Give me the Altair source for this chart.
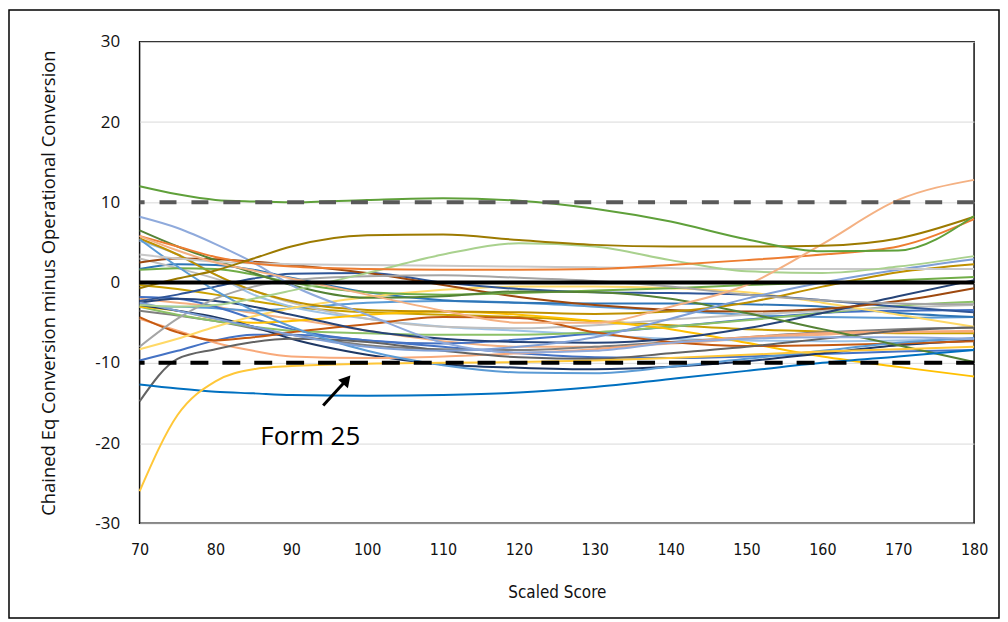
import altair as alt
import pandas as pd

# ---------------- data ----------------
SCORES = [70, 75, 80, 85, 90, 100, 110, 120, 130, 140, 150, 160, 170, 180]
X_TICKS = [70, 80, 90, 100, 110, 120, 130, 140, 150, 160, 170, 180]
Y_TICKS = [-30, -20, -10, 0, 10, 20, 30]

f01 = [12.0, 11.0, 10.3, 10.1, 10.0, 10.3, 10.5, 10.2, 9.2, 7.6, 5.4, 3.9, 4.0, 8.3]
f02 = [-0.7, 0.5, 1.5, 3.0, 4.5, 5.9, 6.0, 5.3, 4.7, 4.5, 4.5, 4.6, 5.5, 8.2]
f03 = [5.8, 4.0, 2.5, 1.5, 0.5, -1.5, -3.5, -5.0, -5.0, -3.0, -0.3, 4.8, 10.3, 12.8]
f04 = [5.8, 4.5, 3.2, 2.4, 2.0, 1.7, 1.6, 1.6, 1.7, 2.2, 2.8, 3.5, 4.5, 7.9]
f05 = [-2.8, -3.0, -2.8, -2.0, -1.0, 1.2, 3.5, 4.9, 4.5, 2.8, 1.4, 1.2, 2.0, 3.3]
f06 = [3.5, 3.0, 2.6, 2.4, 2.3, 2.2, 2.1, 2.0, 1.9, 1.8, 1.7, 1.7, 1.7, 1.7]
f07 = [8.2, 6.8, 4.8, 2.5, -0.3, -4.0, -7.5, -8.7, -8.5, -7.5, -7.0, -6.8, -6.8, -7.0]
f08 = [-2.5, -3.5, -4.5, -5.5, -6.5, -8.0, -8.5, -8.0, -6.8, -4.5, -2.0, 0.0, 1.6, 2.9]
f09 = [6.5, 4.5, 2.8, 1.2, -0.3, -1.9, -1.7, -1.1, -1.2, -2.0, -3.8, -5.8, -7.8, -9.9]
f10 = [5.4, 2.0, -1.0, -3.5, -5.5, -8.5, -10.3, -11.2, -11.3, -10.5, -9.5, -8.5, -7.5, -6.9]
f11 = [-12.7, -13.2, -13.6, -13.8, -14.0, -14.1, -14.0, -13.7, -13.0, -12.0, -11.0, -10.0, -9.2, -8.4]
form25 = [-26.0, -16.5, -12.3, -10.8, -10.4, -10.1, -10.0, -9.9, -9.7, -9.4, -9.0, -8.6, -8.3, -8.0]
f12 = [-14.8, -9.5, -8.3, -7.4, -7.0, -7.4, -8.5, -9.3, -9.5, -8.8, -8.0, -7.0, -6.0, -5.6]
f13 = [-8.0, -4.5, -2.0, -0.5, 0.3, 0.8, 0.9, 0.6, 0.2, -0.5, -1.5, -2.2, -2.6, -2.7]
f15 = [1.6, 1.8, 1.7, 1.0, 0.0, -1.2, -1.5, -1.3, -1.0, -0.7, -0.3, 0.0, 0.3, 0.7]
f16 = [5.5, 3.5, 1.0, -1.0, -2.3, -3.4, -3.6, -3.7, -3.9, -3.6, -2.5, -0.5, 1.3, 2.3]
f17 = [2.5, 3.0, 2.9, 2.6, 2.2, 1.2, -0.3, -1.8, -2.8, -3.4, -3.6, -3.3, -2.3, -0.7]
f18 = [-2.5, -2.0, -2.3, -3.0, -4.0, -6.0, -7.0, -7.4, -7.5, -7.0, -5.7, -3.8, -1.7, 0.3]
f19 = [-2.3, -1.5, -0.5, 0.5, 1.1, 1.2, 0.0, -0.8, -1.2, -1.3, -1.5, -2.2, -3.0, -3.7]
f20 = [-8.3, -7.0, -5.5, -4.2, -3.2, -1.8, -0.9, -0.5, -0.5, -0.7, -1.2, -2.5, -4.0, -5.5]
f21 = [-4.3, -6.2, -7.2, -6.8, -6.2, -5.2, -4.3, -4.4, -6.2, -7.4, -7.9, -7.8, -7.6, -7.3]
f22 = [-4.5, -6.0, -7.5, -8.5, -9.2, -9.4, -9.2, -8.8, -8.3, -7.5, -6.8, -6.3, -6.1, -6.1]
f23 = [-2.8, -3.5, -4.3, -5.5, -7.0, -9.0, -10.2, -10.6, -10.8, -10.5, -9.8, -8.8, -7.8, -7.2]
f24 = [-3.0, -3.5, -4.5, -5.0, -4.8, -4.0, -3.6, -4.0, -4.8, -5.8, -7.5, -9.2, -10.5, -11.7]
f25 = [3.0, 1.8, 0.5, -1.0, -2.5, -4.5, -5.5, -5.7, -5.3, -4.6, -4.0, -3.5, -3.1, -2.8]
f26 = [-3.0, -4.0, -4.8, -5.5, -6.0, -6.3, -6.5, -6.5, -6.2, -5.5, -4.7, -3.8, -2.9, -2.4]
f27 = [-1.8, -2.0, -3.0, -4.5, -5.8, -7.2, -7.6, -7.1, -6.3, -5.5, -4.6, -3.8, -3.5, -3.4]
f28 = [-3.5, -4.1, -4.8, -5.7, -6.5, -7.8, -8.3, -8.4, -8.0, -7.4, -6.8, -6.2, -5.8, -5.6]
f29 = [1.7, 2.3, 2.2, 1.6, 0.6, -1.2, -2.2, -2.5, -2.6, -2.6, -2.7, -3.0, -3.8, -4.3]
f30 = [5.2, 3.5, 1.0, -1.5, -3.0, -4.5, -5.5, -6.0, -6.5, -7.0, -7.2, -7.3, -7.2, -7.0]
f31 = [-3.0, -3.0, -3.2, -3.5, -3.2, -2.5, -2.3, -2.5, -3.0, -3.5, -4.0, -4.3, -4.4, -4.3]
f32 = [-2.0, -2.5, -3.0, -3.8, -4.5, -6.0, -7.3, -8.0, -8.0, -7.6, -7.0, -6.5, -6.2, -6.0]
f33 = [-0.3, -0.8, -1.5, -2.3, -3.0, -3.7, -4.0, -4.3, -4.8, -5.3, -5.8, -6.1, -6.3, -6.3]
f34 = [-9.7, -8.5, -7.2, -6.5, -6.5, -7.2, -8.0, -8.8, -9.3, -9.4, -9.2, -8.9, -8.6, -8.4]

SERIES_NAMES = ["f34", "f33", "f32", "f31", "f30", "f29", "f28", "f27", "f26", "f25",
                "f24", "f23", "f22", "f21", "f20", "f19", "f18", "f17", "f16", "f15",
                "f13", "f12", "f10", "f09", "f08", "f07", "f06", "f05", "f04", "f03",
                "f02", "f11", "Form 25", "f01"]
SERIES_VALUES = [f34, f33, f32, f31, f30, f29, f28, f27, f26, f25,
                 f24, f23, f22, f21, f20, f19, f18, f17, f16, f15,
                 f13, f12, f10, f09, f08, f07, f06, f05, f04, f03,
                 f02, f11, form25, f01]

REF_SOLID = [0]
REF_UPPER = [10]
REF_LOWER = [-10]

ANN_LABEL = ["Form 25"]
ANN_X = [92.5]
ANN_Y = [-20.2]
ARROW_TAIL_X = [94.2]
ARROW_TAIL_Y = [-15.3]
ARROW_HEAD_X = [97.3]
ARROW_HEAD_Y = [-12.1]

# ---------------- styles ----------------
SERIES_COLORS = ["#4472C4", "#C9A000", "#F4B183", "#5B9BD5", "#9DC3E6", "#2E75B6",
                 "#7F7F7F", "#4472C4", "#8CC168", "#BFBFBF", "#FFC000", "#1F3864",
                 "#F8A97A", "#C55A11", "#FFD966", "#2F5597", "#264478", "#9E480E",
                 "#BF9000", "#70AD47", "#A5A5A5", "#636363", "#5B9BD5", "#548235",
                 "#7F9FD6", "#8FAADC", "#C8C8C8", "#A9D18E", "#ED7D31", "#F4B183",
                 "#9C7A00", "#0070C0", "#FFC738", "#5FA03A"]

rows = []
for name, vals in zip(SERIES_NAMES, SERIES_VALUES):
    for s, v in zip(SCORES, vals):
        rows.append({"series": name, "score": s, "diff": v})
df = pd.DataFrame(rows)

xscale = alt.Scale(domain=[70, 180], nice=False)
yscale = alt.Scale(domain=[-30, 30], nice=False)

XFONT = "'DejaVu Sans Condensed', 'Liberation Sans Narrow', Lato, sans-serif"

XAX = alt.Axis(values=X_TICKS, title="Scaled Score", grid=False, ticks=False,
               domain=False, labelPadding=18, titlePadding=27, labelFlush=False,
               labelFont=XFONT, labelFontSize=16, labelExpr="'' + datum.value",
               labelColor="#111111", titleFont=XFONT,
               titleFontSize=17, titleFontWeight="normal", titleColor="#111111")
YAX = alt.Axis(values=Y_TICKS, title="Chained Eq Conversion minus Operational Conversion",
               grid=True, gridColor="#D9D9D9", gridWidth=1, ticks=False,
               domain=False, labelPadding=20, titlePadding=36, labelFlush=False,
               labelFont="Open Sans", labelFontSize=17, labelColor="#111111",
               labelExpr="'' + datum.value",
               titleFont="Open Sans", titleFontSize=18.5, titleFontWeight="normal",
               titleColor="#111111")


def X(field):
    return alt.X(field, scale=xscale, axis=XAX)


def Y(field):
    return alt.Y(field, scale=yscale, axis=YAX)


lines = alt.Chart(df).mark_line(strokeWidth=2, interpolate="monotone").encode(
    x=X("score:Q"),
    y=Y("diff:Q"),
    color=alt.Color("series:N", scale=alt.Scale(domain=SERIES_NAMES, range=SERIES_COLORS),
                    legend=None),
    order=alt.Order("score:Q"),
    detail="series:N",
)

zero = alt.Chart(pd.DataFrame({"v": REF_SOLID})).mark_rule(color="black", strokeWidth=4).encode(
    y=Y("v:Q"))
upper = alt.Chart(pd.DataFrame({"v": REF_UPPER})).mark_rule(
    color="#595959", strokeWidth=4, strokeDash=[17, 15]).encode(y=Y("v:Q"))
lower = alt.Chart(pd.DataFrame({"v": REF_LOWER})).mark_rule(
    color="black", strokeWidth=4, strokeDash=[18, 14]).encode(y=Y("v:Q"))

ann_df = pd.DataFrame({"x": ANN_X, "y": ANN_Y, "label": ANN_LABEL})
ann = alt.Chart(ann_df).mark_text(font="Open Sans", fontSize=26, color="black",
                                  align="center", baseline="alphabetic").encode(
    x=X("x:Q"), y=Y("y:Q"), text="label:N")

arrow_df = pd.DataFrame({"x": ARROW_TAIL_X, "y": ARROW_TAIL_Y, "x2": ARROW_HEAD_X, "y2": ARROW_HEAD_Y})
arrow = alt.Chart(arrow_df).mark_rule(color="black", strokeWidth=3).encode(
    x=X("x:Q"), y=Y("y:Q"), x2="x2:Q", y2="y2:Q")
head = alt.Chart(arrow_df).mark_point(shape="triangle-up", filled=True, size=170, angle=41,
                                      color="black", opacity=1).encode(
    x=X("x2:Q"), y=Y("y2:Q"))

border = alt.Chart(pd.DataFrame({"a": [0]})).mark_rect(
    fillOpacity=0, stroke="black", strokeWidth=1.5).encode(
    x=alt.value(-131), x2=alt.value(862), y=alt.value(-32), y2=alt.value(578))

chart = alt.layer(lines, upper, lower, zero, arrow, head, ann, border).properties(
    width=837, height=483,
    autosize=alt.AutoSizeParams(type="none"),
    padding={"left": 132, "top": 33, "right": 26, "bottom": 96},
).configure_view(stroke="#111111", strokeWidth=1.5)

chart.save("out.html", embed_options={"renderer": "svg", "actions": False})
